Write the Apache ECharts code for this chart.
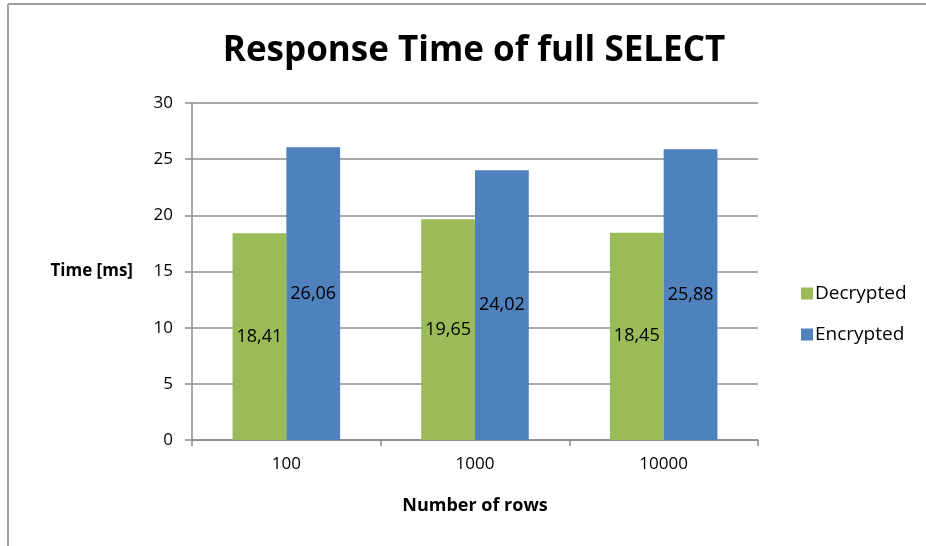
<!DOCTYPE html>
<html>
<head>
<meta charset="utf-8">
<script src="https://cdn.jsdelivr.net/npm/echarts@6/dist/echarts.min.js"></script>
<style>
  html, body { margin: 0; padding: 0; background: #fff; }
  #chart { width: 926px; height: 546px; }
</style>
</head>
<body>
<div id="chart"></div>
<script>
const categories = ['100', '1000', '10000']
const decrypted = [18.41, 19.65, 18.45]
const encrypted = [26.06, 24.02, 25.88]
const yTicks = { min: 0, max: 30, interval: 5 }

const FONT = '"Open Sans", sans-serif'
const fmt = p => p.value.toFixed(2).replace('.', ',')

const chart = echarts.init(document.getElementById('chart'))

chart.setOption({
  animation: false,
  textStyle: { fontFamily: FONT },
  title: {
    text: 'Response Time of full SELECT',
    left: 469,
    textAlign: 'center',
    top: 29,
    textStyle: { fontFamily: FONT, fontSize: 35, fontWeight: 'bold', color: '#000' },
  },
  // sheet frame lines (Excel chart border)
  graphic: [
    { type: 'line', shape: { x1: 8, y1: 4, x2: 926, y2: 4 }, style: { stroke: '#a0a0a0', lineWidth: 2 } },
    { type: 'line', shape: { x1: 8, y1: 4, x2: 8, y2: 546 }, style: { stroke: '#a0a0a0', lineWidth: 2 } },
  ],
  legend: {
    orient: 'vertical',
    left: 796,
    top: 279,
    itemWidth: 12,
    itemHeight: 12,
    itemGap: 22,
    icon: 'rect',
    textStyle: { fontFamily: FONT, fontSize: 19, color: '#000', padding: [0, 0, 0, -3] },
    data: ['Decrypted', 'Encrypted'],
  },
  grid: { left: 192, top: 103, right: 168, bottom: 106, containLabel: false },
  xAxis: {
    type: 'category',
    data: categories,
    name: 'Number of rows',
    nameLocation: 'middle',
    nameGap: 57,
    nameTextStyle: { fontFamily: FONT, fontSize: 18, fontWeight: 'bold', color: '#000' },
    axisLine: { lineStyle: { color: '#8c8c8c', width: 1.5 } },
    axisTick: { show: true, length: 6, lineStyle: { color: '#8c8c8c', width: 1.5 } },
    axisLabel: { fontSize: 17, color: '#000', margin: 16 },
  },
  yAxis: {
    type: 'value',
    min: yTicks.min,
    max: yTicks.max,
    interval: yTicks.interval,
    name: 'Time [ms]',
    nameLocation: 'middle',
    nameRotate: 0,
    nameGap: 59,
    nameTextStyle: { fontFamily: FONT, fontSize: 17, fontWeight: 'bold', color: '#000' },
    axisLine: { show: true, lineStyle: { color: '#8c8c8c', width: 1.5 } },
    axisTick: { show: true, length: 7, lineStyle: { color: '#8c8c8c', width: 1.5 } },
    axisLabel: { fontSize: 17, color: '#000', margin: 19 },
    splitLine: { lineStyle: { color: '#8c8c8c', width: 1.5 } },
  },
  series: [
    {
      name: 'Decrypted',
      type: 'bar',
      data: decrypted,
      barGap: '0%',
      barCategoryGap: '43%',
      itemStyle: { color: '#9bbb59' },
      label: { show: true, position: 'inside', formatter: fmt, fontSize: 18, color: '#000' },
    },
    {
      name: 'Encrypted',
      type: 'bar',
      data: encrypted,
      itemStyle: { color: '#4f81bd' },
      label: { show: true, position: 'inside', formatter: fmt, fontSize: 18, color: '#000' },
    },
  ],
})
</script>
</body>
</html>
